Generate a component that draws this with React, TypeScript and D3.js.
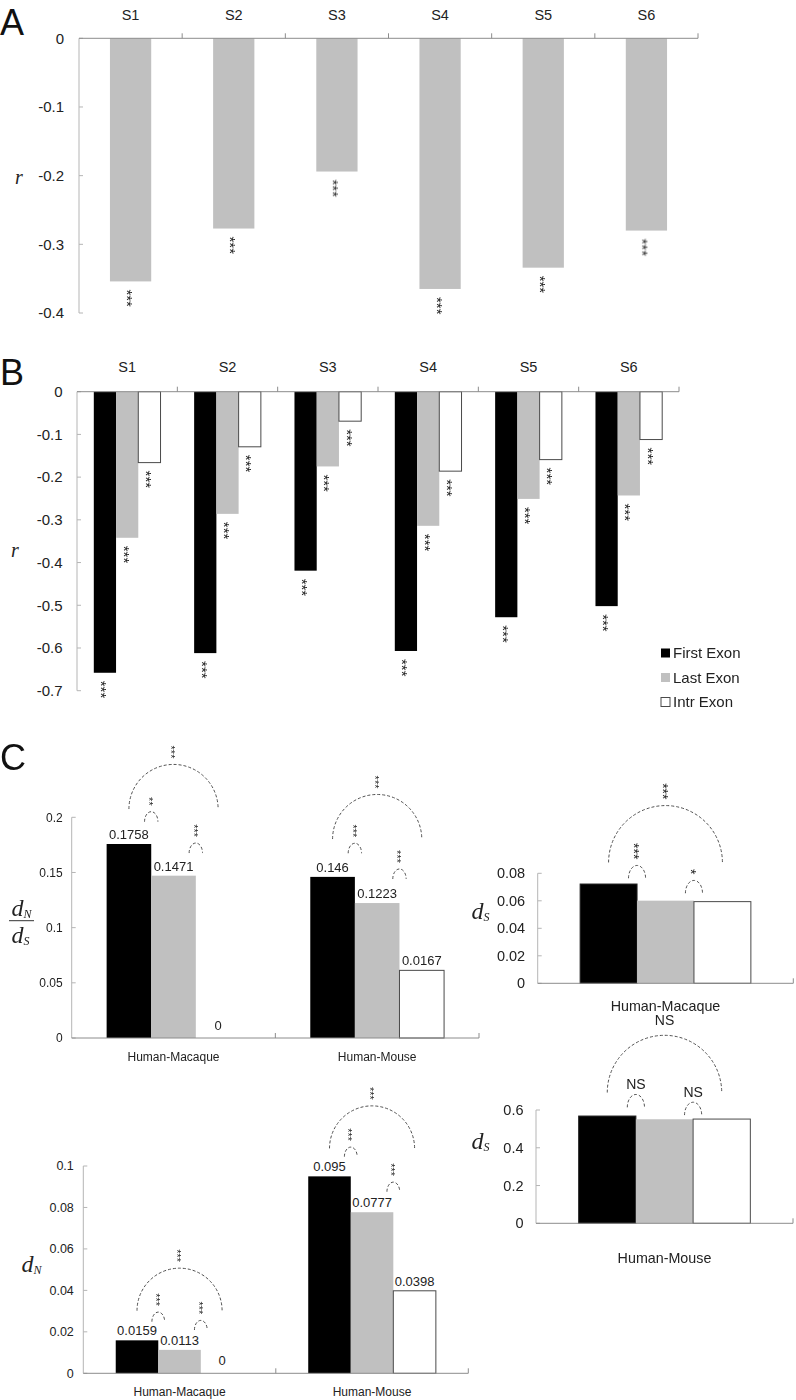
import React from "react";
import * as d3 from "d3";

const SANS = "'Liberation Sans', Arial, Helvetica, sans-serif";
const SERIF = "'Liberation Serif', 'Times New Roman', serif";

// ---------- Panel A ----------
const samples = ["S1", "S2", "S3", "S4", "S5", "S6"];
const rAll = [-0.354, -0.277, -0.194, -0.365, -0.334, -0.28];
const ticksA = [0, -0.1, -0.2, -0.3, -0.4];

// ---------- Panel B ----------
const rFirst = [-0.658, -0.612, -0.419, -0.607, -0.528, -0.502];
const rLast = [-0.342, -0.286, -0.175, -0.314, -0.251, -0.243];
const rIntr = [-0.166, -0.129, -0.069, -0.186, -0.159, -0.112];
const ticksB = [0, -0.1, -0.2, -0.3, -0.4, -0.5, -0.6, -0.7];

const exonTypes = ["First Exon", "Last Exon", "Intr Exon"];
const exonFills = ["#000000", "#c0c0c0", "#ffffff"];
const exonStrokes = ["none", "none", "#4a4a4a"];

// ---------- Panel C ----------
const pairs = ["Human-Macaque", "Human-Mouse"];
const dndsFirst = [0.1758, 0.146];
const dndsLast = [0.1471, 0.1223];
const dndsIntr = [0, 0.0613];
const dndsLabelsFirst = ["0.1758", "0.146"];
const dndsLabelsLast = ["0.1471", "0.1223"];
const dndsLabelsIntr = ["0", "0.0167"];
const dndsTicks = [0, 0.05, 0.1, 0.15, 0.2];

const dnFirst = [0.0159, 0.095];
const dnLast = [0.0113, 0.0777];
const dnIntr = [0, 0.0398];
const dnLabelsFirst = ["0.0159", "0.095"];
const dnLabelsLast = ["0.0113", "0.0777"];
const dnLabelsIntr = ["0", "0.0398"];
const dnTicks = [0, 0.02, 0.04, 0.06, 0.08, 0.1];

const dsMacaquePair = ["Human-Macaque"];
const dsMacaqueFirst = [0.0722];
const dsMacaqueLast = [0.0601];
const dsMacaqueIntr = [0.0594];
const dsMacaqueTicks = [0, 0.02, 0.04, 0.06, 0.08];

const dsMousePair = ["Human-Mouse"];
const dsMouseFirst = [0.568];
const dsMouseLast = [0.551];
const dsMouseIntr = [0.552];
const dsMouseTicks = [0, 0.2, 0.4, 0.6];

// significance brackets: group, from bar, to bar, base level (data units), label
const dndsSig = [
  { g: 0, a: 0, b: 1, level: 0.196, label: "**" },
  { g: 0, a: 1, b: 2, level: 0.1676, label: "***" },
  { g: 0, a: 0, b: 2, level: 0.2075, label: "***" },
  { g: 1, a: 0, b: 1, level: 0.1674, label: "***" },
  { g: 1, a: 1, b: 2, level: 0.1441, label: "***" },
  { g: 1, a: 0, b: 2, level: 0.1803, label: "***" },
];
const dnSig = [
  { g: 0, a: 0, b: 1, level: 0.0249, label: "***" },
  { g: 0, a: 1, b: 2, level: 0.0209, label: "***" },
  { g: 0, a: 0, b: 2, level: 0.0302, label: "***" },
  { g: 1, a: 0, b: 1, level: 0.1045, label: "***" },
  { g: 1, a: 1, b: 2, level: 0.0876, label: "***" },
  { g: 1, a: 0, b: 2, level: 0.1085, label: "***" },
];
const dsMacaqueSig = [
  { g: 0, a: 0, b: 1, level: 0.0764, label: "***" },
  { g: 0, a: 1, b: 2, level: 0.0655, label: "*" },
  { g: 0, a: 0, b: 2, level: 0.0879, label: "***" },
];
const dsMouseSig = [
  { g: 0, a: 0, b: 1, level: 0.614, label: "NS" },
  { g: 0, a: 1, b: 2, level: 0.573, label: "NS" },
  { g: 0, a: 0, b: 2, level: 0.6925, label: "NS" },
];

type Sig = { g: number; a: number; b: number; level: number; label: string };

interface PanelProps {
  categories: string[];
  series: number[][];
  fills: string[];
  strokes: string[];
  valueLabels?: string[][];
  xRange: [number, number];
  yDomain: [number, number];
  yRange: [number, number];
  ticks: number[];
  tickFont: number;
  tickGap: number;
  barFrac: number;
  catLabelY: number;
  catFont: number;
  starsBelow?: boolean;
  starFont?: number;
  sigs?: Sig[];
  sigFont?: number;
  valueFont?: number;
}

function BarPanel(p: PanelProps) {
  const x = d3
    .scaleBand<string>()
    .domain(p.categories)
    .range(p.xRange)
    .paddingInner(0)
    .paddingOuter(0);
  const y = d3.scaleLinear().domain(p.yDomain).range(p.yRange);
  const nS = p.series.length;
  const groupW = x.bandwidth() * p.barFrac;
  const inner = d3
    .scaleBand<string>()
    .domain(d3.range(nS).map(String))
    .range([0, groupW]);
  const bw = inner.bandwidth();
  const off = (x.bandwidth() - groupW) / 2;
  const bx = (c: number, s: number) =>
    (x(p.categories[c]) ?? 0) + off + (inner(String(s)) ?? 0);
  const y0 = y(0);
  const [ax0, ax1] = p.xRange;
  const yTop = Math.min(p.yRange[0], p.yRange[1]);
  const yBot = Math.max(p.yRange[0], p.yRange[1]);

  const bars: React.ReactNode[] = [];
  const notes: React.ReactNode[] = [];
  const rotated: React.ReactNode[] = [];
  p.series.forEach((vals, s) => {
    vals.forEach((v, c) => {
      const xx = bx(c, s);
      const yv = y(v);
      bars.push(
        <rect
          key={`b${s}-${c}`}
          x={xx}
          y={Math.min(yv, y0)}
          width={bw}
          height={Math.abs(yv - y0)}
          fill={p.fills[s]}
          stroke={p.strokes[s]}
          strokeWidth={1}
        />
      );
      const cx = xx + bw / 2;
      if (p.starsBelow) {
        rotated.push(
          <text
            key={`st${s}-${c}`}
            transform={`translate(${cx},${yv + 8}) rotate(90)`}
            dy="0.57em"
            fontSize={p.starFont}
            fontFamily={SANS}
            fill="#222"
          >
            ***
          </text>
        );
      }
      if (p.valueLabels) {
        notes.push(
          <text
            key={`vl${s}-${c}`}
            x={cx}
            y={yv - (v === 0 ? 8 : 5)}
            textAnchor="middle"
            fontSize={p.valueFont}
            fontFamily={SANS}
            fill="#222"
          >
            {p.valueLabels[s][c]}
          </text>
        );
      }
    });
  });

  const arcs: React.ReactNode[] = [];
  (p.sigs || []).forEach((sg, i) => {
    let cx: number, rx: number, ry: number;
    const adjacent = sg.b - sg.a === 1;
    if (adjacent) {
      cx = bx(sg.g, sg.b);
      rx = bw * 0.15;
      ry = rx * 1.5;
    } else {
      const c0 = bx(sg.g, sg.a) + bw / 2;
      const c1 = bx(sg.g, sg.b) + bw / 2;
      cx = (c0 + c1) / 2;
      rx = (c1 - c0) / 2;
      ry = rx;
    }
    const base = y(sg.level);
    const top = base - ry;
    arcs.push(
      <path
        key={`arc${i}`}
        d={`M${cx - rx},${base} A${rx},${ry} 0 0 1 ${cx + rx},${base}`}
        fill="none"
        stroke="#505050"
        strokeWidth={1}
        strokeDasharray="3 2"
      />
    );
    if (sg.label.includes("*")) {
      rotated.push(
        <text
          key={`sl${i}`}
          transform={`translate(${cx},${top - 6}) rotate(90)`}
          dy="0.57em"
          textAnchor="end"
          fontSize={p.sigFont}
          fontFamily={SANS}
          fill="#222"
        >
          {sg.label}
        </text>
      );
    } else {
      notes.push(
        <text
          key={`sl${i}`}
          x={cx}
          y={top - (adjacent ? 5 : 10)}
          textAnchor="middle"
          fontSize={14}
          fontFamily={SANS}
          fill="#222"
        >
          {sg.label}
        </text>
      );
    }
  });

  return (
    <g>
      {bars}
      <line
        x1={ax0}
        x2={ax0}
        y1={yTop}
        y2={yBot}
        stroke="#b5b5b5"
        strokeWidth={1}
      />
      {p.ticks.map((t) => (
        <g key={`t${t}`}>
          <line
            x1={ax0}
            x2={ax0 + 4}
            y1={y(t)}
            y2={y(t)}
            stroke="#b5b5b5"
            strokeWidth={1}
          />
          <text
            x={ax0 - p.tickGap}
            y={y(t)}
            dy="0.35em"
            textAnchor="end"
            fontSize={p.tickFont}
            fontFamily={SANS}
            fill="#222"
          >
            {String(t)}
          </text>
        </g>
      ))}
      <line
        x1={ax0}
        x2={ax1}
        y1={y0}
        y2={y0}
        stroke="#8c8c8c"
        strokeWidth={1}
      />
      {p.categories.map((cat) => {
        const xb = (x(cat) ?? 0) + x.bandwidth();
        return (
          <line
            key={`xt${cat}`}
            x1={xb}
            x2={xb}
            y1={y0}
            y2={y0 - 5}
            stroke="#8c8c8c"
            strokeWidth={1}
          />
        );
      })}
      {p.categories.map((cat) => (
        <text
          key={`cl${cat}`}
          x={(x(cat) ?? 0) + x.bandwidth() / 2}
          y={p.catLabelY}
          textAnchor="middle"
          fontSize={p.catFont}
          fontFamily={SANS}
          fill="#222"
        >
          {cat}
        </text>
      ))}
      {notes}
      {arcs}
      <g opacity={0.99} style={{ willChange: "transform" }}>
        {rotated}
      </g>
    </g>
  );
}

function DLabel({
  x,
  y,
  sub,
  size = 24,
}: {
  x: number;
  y: number;
  sub: string;
  size?: number;
}) {
  return (
    <text
      x={x}
      y={y}
      fontFamily={SERIF}
      fontStyle="italic"
      fontSize={size}
      fill="#222"
    >
      d
      <tspan fontSize={size * 0.5} dy={size * 0.08}>
        {sub}
      </tspan>
    </text>
  );
}

export default function App() {
  return (
    <svg
      width={796}
      height={1400}
      viewBox="0 0 796 1400"
      style={{ position: "absolute", left: 0, top: 0, background: "#fff" }}
    >
      <rect x={0} y={0} width={796} height={1400} fill="#fff" />

      {/* Panel A */}
      <text x={0} y={35} fontSize={36} fontFamily={SANS} fill="#111">
        A
      </text>
      <text
        x={19}
        y={177}
        dy="0.35em"
        textAnchor="middle"
        fontSize={20}
        fontFamily={SERIF}
        fontStyle="italic"
        fill="#222"
      >
        r
      </text>
      <BarPanel
        categories={samples}
        series={[rAll]}
        fills={["#c0c0c0"]}
        strokes={["none"]}
        xRange={[79, 698]}
        yDomain={[-0.4, 0]}
        yRange={[313, 38.3]}
        ticks={ticksA}
        tickFont={15}
        tickGap={15}
        barFrac={0.4}
        catLabelY={20}
        catFont={14.5}
        starsBelow
        starFont={15}
      />

      {/* Panel B */}
      <text x={0} y={385} fontSize={36} fontFamily={SANS} fill="#111">
        B
      </text>
      <text
        x={15}
        y={550}
        dy="0.35em"
        textAnchor="middle"
        fontSize={20}
        fontFamily={SERIF}
        fontStyle="italic"
        fill="#222"
      >
        r
      </text>
      <BarPanel
        categories={samples}
        series={[rFirst, rLast, rIntr]}
        fills={exonFills}
        strokes={exonStrokes}
        xRange={[77, 679]}
        yDomain={[-0.7, 0]}
        yRange={[690.7, 391.7]}
        ticks={ticksB}
        tickFont={15}
        tickGap={14.5}
        barFrac={0.665}
        catLabelY={372}
        catFont={14.5}
        starsBelow
        starFont={15}
      />
      {exonTypes.map((t, i) => (
        <g key={t}>
          <rect
            x={661}
            y={648.5 + i * 24.5}
            width={9}
            height={9}
            fill={exonFills[i]}
            stroke={i === 2 ? "#4a4a4a" : "none"}
          />
          <text
            x={673}
            y={653 + i * 24.5}
            dy="0.35em"
            fontSize={15}
            fontFamily={SANS}
            fill="#222"
          >
            {t}
          </text>
        </g>
      ))}

      {/* Panel C */}
      <text x={0} y={770} fontSize={36} fontFamily={SANS} fill="#111">
        C
      </text>

      {/* dN/dS */}
      <DLabel x={11.5} y={916} sub="N" />
      <line x1={9} x2={34} y1={920.7} y2={920.7} stroke="#333" strokeWidth={1} />
      <DLabel x={11.5} y={943} sub="S" />
      <BarPanel
        categories={pairs}
        series={[dndsFirst, dndsLast, dndsIntr]}
        fills={exonFills}
        strokes={exonStrokes}
        valueLabels={[dndsLabelsFirst, dndsLabelsLast, dndsLabelsIntr]}
        valueFont={13}
        xRange={[71.7, 479]}
        yDomain={[0, 0.2]}
        yRange={[1038, 817.3]}
        ticks={dndsTicks}
        tickFont={12}
        tickGap={9}
        barFrac={0.657}
        catLabelY={1061}
        catFont={12}
        sigs={dndsSig}
        sigFont={11}
      />

      {/* dN */}
      <DLabel x={21.5} y={1272} sub="N" />
      <BarPanel
        categories={pairs}
        series={[dnFirst, dnLast, dnIntr]}
        fills={exonFills}
        strokes={exonStrokes}
        valueLabels={[dnLabelsFirst, dnLabelsLast, dnLabelsIntr]}
        valueFont={13}
        xRange={[83.3, 468.3]}
        yDomain={[0, 0.1]}
        yRange={[1373.3, 1166]}
        ticks={dnTicks}
        tickFont={12.5}
        tickGap={9.5}
        barFrac={0.663}
        catLabelY={1396}
        catFont={12}
        sigs={dnSig}
        sigFont={11}
      />

      {/* dS Human-Macaque */}
      <DLabel x={471.5} y={919} sub="S" />
      <BarPanel
        categories={dsMacaquePair}
        series={[dsMacaqueFirst, dsMacaqueLast, dsMacaqueIntr]}
        fills={exonFills}
        strokes={["#222", "none", "#4a4a4a"]}
        xRange={[537.7, 793.3]}
        yDomain={[0, 0.08]}
        yRange={[983.3, 873.3]}
        ticks={dsMacaqueTicks}
        tickFont={14.5}
        tickGap={12.5}
        barFrac={0.668}
        catLabelY={1011}
        catFont={14.3}
        sigs={dsMacaqueSig}
        sigFont={14}
      />

      {/* dS Human-Mouse */}
      <DLabel x={471.5} y={1149} sub="S" />
      <BarPanel
        categories={dsMousePair}
        series={[dsMouseFirst, dsMouseLast, dsMouseIntr]}
        fills={exonFills}
        strokes={["#222", "none", "#4a4a4a"]}
        xRange={[536, 793]}
        yDomain={[0, 0.6]}
        yRange={[1223.3, 1110]}
        ticks={dsMouseTicks}
        tickFont={14.5}
        tickGap={12.5}
        barFrac={0.668}
        catLabelY={1263}
        catFont={14.3}
        sigs={dsMouseSig}
        sigFont={14}
      />
    </svg>
  );
}
